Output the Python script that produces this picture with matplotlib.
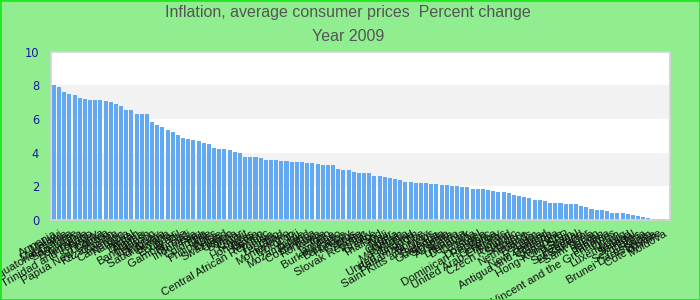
import matplotlib
matplotlib.use("Agg")
import matplotlib.pyplot as plt
from matplotlib.patches import Rectangle

countries = [
    "Armenia", "Malawi", "Mauritania", "Equatorial Guinea", "Sao Tome",
    "Botswana", "Tanzania", "Trinidad and Tobago", "Turkey", "Sri Lanka",
    "Papua New Guinea", "Kazakhstan", "Zambia", "Cameroon", "Namibia",
    "Nepal", "Bhutan", "Algeria", "Bangladesh", "Lebanon",
    "Uruguay", "Saudi Arabia", "Guyana", "Ecuador", "Brazil",
    "Gambia, The", "Burundi", "Indonesia", "Peru", "Colombia",
    "Chile", "Philippines", "Belize", "Swaziland", "Gabon",
    "Bolivia", "Qatar", "Kuwait", "Honduras", "Benin",
    "Mexico", "Central African Republic", "Tunisia", "Lesotho", "Chad",
    "Montenegro", "Morocco", "Fiji", "Mozambique", "Poland",
    "Costa Rica", "Romania", "Kenya", "Togo", "Jamaica",
    "Burkina Faso", "Barbados", "Hungary", "Cyprus", "Malta",
    "Slovak Republic", "Italy", "Greece", "Thailand", "Mali",
    "Niger", "Croatia", "Bahrain", "Macedonia", "Iceland",
    "United Kingdom", "Bahamas, The", "Norway", "Saint Kitts and Nevis", "Grenada",
    "Guatemala", "Slovenia", "Australia", "Austria", "Lithuania",
    "Denmark", "Canada", "Israel", "Dominica", "Dominican Republic",
    "Korea", "Germany", "United Arab Emirates", "Finland", "Czech Republic",
    "Sweden", "France", "Netherlands", "Belgium", "Latvia",
    "New Zealand", "Antigua and Barbuda", "Georgia", "Singapore", "Hong Kong SAR",
    "Spain", "Portugal", "Switzerland", "El Salvador", "Saint Lucia",
    "Japan", "Taiwan", "Panama", "Saint Vincent and the Grenadines", "Oman",
    "Luxembourg", "Ireland", "Senegal", "Seychelles", "Estonia",
    "Brunei Darussalam", "Bosnia", "Côte d'Ivoire", "Moldova",
]

inflation = [
    8.0, 7.9, 7.6, 7.5, 7.4, 7.25, 7.2, 7.15, 7.1, 7.1,
    7.05, 7.0, 6.9, 6.8, 6.55, 6.55, 6.3, 6.3, 6.3, 5.8,
    5.65, 5.5, 5.35, 5.2, 5.05, 4.9, 4.8, 4.75, 4.7, 4.55,
    4.5, 4.3, 4.2, 4.2, 4.15, 4.05, 4.0, 3.75, 3.75,
    3.74, 3.68, 3.56, 3.56, 3.56, 3.5, 3.5, 3.45, 3.45, 3.45,
    3.39, 3.39, 3.33, 3.27, 3.27, 3.27, 3.03, 2.97, 2.97, 2.85,
    2.79, 2.79, 2.79, 2.61, 2.61, 2.55, 2.5, 2.44, 2.38, 2.26,
    2.26, 2.2, 2.2, 2.2, 2.14, 2.14, 2.08, 2.08, 2.02, 2.02,
    1.96, 1.96, 1.84, 1.84,
    1.84, 1.78, 1.72, 1.66, 1.66, 1.6, 1.49, 1.43, 1.37, 1.31,
    1.19, 1.19, 1.13, 1.01, 1.01, 1.01, 0.95, 0.95, 0.95, 0.83,
    0.77, 0.65, 0.59, 0.59, 0.53, 0.42, 0.42, 0.42, 0.36, 0.3,
    0.24, 0.18, 0.12, 0.06, 0.06, 0.06,
]

y_ticks = [0, 2, 4, 6, 8, 10]
title_line1 = "Inflation, average consumer prices  Percent change"
title_line2 = "Year 2009"

bg = "#90EE90"
fig = plt.figure(figsize=(7, 3), dpi=100, facecolor=bg)
ax = fig.add_axes([0.0724, 0.2667, 0.8853, 0.561])
ax.set_facecolor("white")

for lo in (2, 6):
    ax.axhspan(lo, lo + 2, color="#F2F2F2", zorder=0, lw=0)

x = list(range(len(inflation)))
ax.bar(x, inflation, width=0.78, color="#63A9F2", zorder=2)

ax.set_xlim(-0.62, len(inflation) - 1 + 1.26)
ax.set_ylim(0, 10)
ax.set_yticks(y_ticks)
ax.set_yticklabels([str(t) for t in y_ticks], color="#1A1A9C", fontsize=8.3)
ax.tick_params(axis="y", length=0, pad=8.4)
ax.set_xticks(x)
ax.set_xticklabels(countries, rotation=30, ha="right", rotation_mode="anchor",
                   fontsize=8.2, color="#111111", family="Liberation Sans")
ax.tick_params(axis="x", length=0, pad=6)
for s in ax.spines.values():
    s.set_color("#D4D4D4")
    s.set_linewidth(1.2)

fig.text(0.497, 0.958, title_line1, ha="center", va="center", fontsize=11.5,
         color="#555555", family="Liberation Sans")
fig.text(0.497, 0.878, title_line2, ha="center", va="center", fontsize=11.5,
         color="#555555", family="Liberation Sans")

fig.patches.append(Rectangle((0, 0), 1, 1, transform=fig.transFigure, fill=False,
                             edgecolor="#22E622", linewidth=2, zorder=10))

fig.savefig("out.png", dpi=100, facecolor=bg)
